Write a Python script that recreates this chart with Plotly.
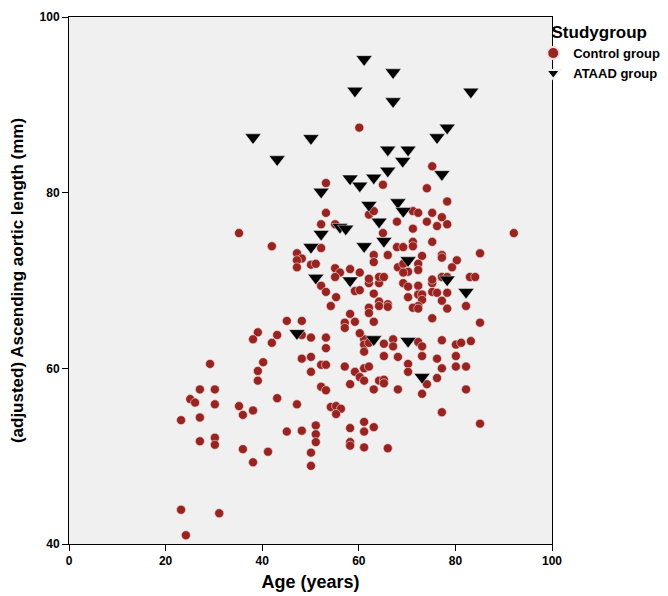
import plotly.graph_objects as go

# Control group (age, adjusted ascending aortic length)
control_age = [
    23.2, 23.2, 24.2, 31.1, 25.1, 26.1, 27.1, 30.2, 29.2, 30.2, 27.1, 27.1, 30.2, 30.2,
    35.2, 36.0, 38.1, 36.0, 38.1, 41.2, 39.1, 38.1, 43.1, 42.0, 40.2, 39.1, 39.1, 43.1,
    45.1, 48.2, 47.2, 45.1, 48.2, 48.2, 48.2, 35.2, 42.0, 47.2, 48.2, 47.2, 47.2,
    50.1, 53.2, 53.2, 50.1, 50.1, 52.2, 53.2, 52.2, 53.2, 54.2, 55.3, 56.3, 55.3, 51.1,
    51.1, 51.1, 50.1, 50.1, 58.2, 58.2, 58.2, 61.1, 61.1, 63.1, 61.1, 66.0,
    57.1, 59.2, 60.2, 61.1, 58.2, 61.1, 62.1, 61.1, 61.1, 61.1, 62.1, 60.2, 64.2, 65.2,
    65.2, 63.1, 65.2, 65.2, 67.1, 67.1, 68.1, 68.1, 70.2, 70.2, 72.3, 73.1, 73.1, 74.1,
    73.1, 76.2, 77.2, 76.2, 77.2, 80.1, 81.2, 83.2, 80.1, 80.1, 82.2, 82.2, 77.2, 85.1,
    52.2, 53.2, 55.3, 54.2, 59.2, 60.2, 62.1, 64.2, 63.1, 64.2, 64.2, 66.0, 66.0, 62.1,
    62.1, 63.1, 58.2, 57.1, 57.1, 59.2, 69.2, 70.2, 72.3, 70.2, 72.3, 73.1, 73.1, 72.3,
    71.2, 72.3, 75.2, 75.2, 76.2, 77.2, 78.3, 78.3, 82.2, 75.2, 85.1,
    53.2, 65.0, 53.2, 52.2, 55.1, 62.1, 63.1, 67.9, 65.0, 52.2, 63.1, 63.1, 66.0, 67.9,
    69.2, 50.1, 51.1, 55.1, 56.1, 55.1, 58.2, 60.2, 62.1, 64.2, 65.2, 68.1,
    75.2, 74.1, 78.3, 71.2, 72.3, 75.2, 77.2, 74.1, 76.2, 78.3, 71.2, 92.1, 71.2, 71.2,
    75.2, 85.1, 77.2, 77.2, 80.3, 79.3, 73.1, 72.3, 72.3, 69.2, 70.2, 69.2, 75.2, 77.2,
    78.3, 83.0, 84.1, 60.1,
]
control_len = [
    54.1, 43.9, 41.0, 43.5, 56.5, 56.1, 57.6, 57.6, 60.5, 55.9, 54.4, 51.7, 52.1, 51.3,
    55.7, 54.7, 55.2, 50.8, 49.3, 50.5, 64.1, 63.3, 63.8, 62.9, 60.7, 59.7, 58.6, 56.6,
    52.8, 52.9, 55.9, 65.4, 65.4, 63.8, 61.1, 75.4, 73.9, 73.1, 72.5, 72.3, 71.5,
    63.5, 63.5, 62.3, 61.3, 59.6, 60.4, 60.4, 57.9, 57.5, 55.6, 55.7, 55.4, 54.8, 53.5,
    52.5, 51.6, 50.4, 48.9, 53.2, 51.6, 51.2, 53.9, 52.8, 53.3, 51.0, 50.9,
    60.2, 59.6, 59.0, 58.6, 58.2, 60.0, 60.2, 63.3, 62.7, 61.9, 62.9, 64.0, 58.6, 58.7,
    58.3, 57.6, 62.8, 61.4, 63.3, 62.5, 61.3, 57.6, 60.5, 59.6, 63.0, 62.5, 61.4, 58.2,
    57.1, 61.1, 60.0, 58.9, 63.2, 62.7, 62.9, 63.1, 61.4, 60.2, 60.2, 57.6, 55.0, 53.7,
    69.4, 68.7, 68.1, 67.1, 68.8, 68.9, 69.7, 69.7, 68.5, 67.6, 67.1, 67.3, 67.0, 66.9,
    66.3, 65.3, 66.2, 65.2, 64.6, 65.3, 69.7, 69.3, 69.4, 68.1, 68.4, 68.4, 67.8, 67.1,
    66.9, 66.8, 69.7, 68.7, 68.6, 67.7, 68.6, 66.8, 67.1, 65.7, 65.2,
    81.1, 80.9, 77.7, 76.4, 76.4, 77.5, 77.9, 76.7, 75.4, 73.7, 72.9, 72.1, 72.9, 73.8,
    73.8, 71.8, 71.9, 71.4, 70.9, 70.4, 71.3, 70.9, 70.2, 70.4, 70.4, 71.5,
    83.0, 80.5, 79.0, 77.9, 77.7, 77.7, 77.2, 76.7, 76.2, 76.4, 75.9, 75.4, 74.4, 73.9,
    74.4, 73.1, 72.9, 72.6, 72.3, 71.5, 72.8, 71.9, 71.2, 71.9, 71.0, 70.9, 70.1, 70.4,
    70.4, 70.4, 70.4, 87.4,
]

# ATAAD group
ataad_age = [
    38.1, 43.1, 50.1, 52.2, 52.2, 50.1, 51.1, 47.2, 56.1, 57.3, 58.2, 58.2, 59.2, 60.2,
    61.1, 61.1, 62.1, 63.1, 63.1, 70.2, 64.2, 65.2, 66.0, 66.0, 67.1, 67.1, 68.1, 69.1,
    69.2, 70.2, 70.2, 73.1, 76.2, 77.2, 78.3, 78.3, 82.2, 83.2,
]
ataad_len = [
    86.3, 83.8, 86.2, 80.1, 75.3, 73.8, 70.3, 64.0, 76.1, 75.9, 81.6, 70.0, 91.6, 80.8,
    95.2, 73.9, 78.6, 81.7, 63.3, 63.1, 76.7, 74.5, 82.5, 84.9, 90.4, 93.7, 78.9, 83.6,
    77.9, 84.9, 72.3, 59.0, 86.3, 82.1, 87.4, 70.1, 68.7, 91.5,
]

x_ticks = [0, 20, 40, 60, 80, 100]
y_ticks = [40, 60, 80, 100]

font_family = "Liberation Sans, Arial, sans-serif"

# The page has an 8px body margin, so the figure is sized/offset to compensate.
FIG_W, FIG_H = 660, 588
L, B = 61, 52
PLOT_W, PLOT_H = 483, 527

fig = go.Figure()
fig.add_trace(go.Scatter(
    x=control_age, y=control_len, mode="markers", name="<b>Control group</b>",
    marker=dict(symbol="circle", size=9, color="#972421",
                line=dict(width=0.6, color="#f4dede")),
))
fig.add_trace(go.Scatter(
    x=ataad_age, y=ataad_len, mode="markers", name="<b>ATAAD group</b>",
    marker=dict(symbol="triangle-down", size=14, color="#000000",
                line=dict(width=0.5, color="#f0f0f0")),
))

axis_common = dict(
    showgrid=False, zeroline=False, showline=True, linecolor="#000000", linewidth=1,
    mirror=True, ticks="outside", ticklen=6, tickcolor="#000000", tickwidth=1,
    tickfont=dict(family=font_family, size=12, color="#000000", weight="bold"),
    automargin=False,
)

fig.update_layout(
    width=FIG_W, height=FIG_H,
    margin=dict(l=L, r=0, t=0, b=B),
    paper_bgcolor="#ffffff", plot_bgcolor="#f0f0f0",
    font=dict(family=font_family, color="#000000"),
    xaxis=dict(range=[0, 100], tickvals=x_ticks, domain=[0, PLOT_W / (FIG_W - L)],
               title=dict(text="<b>Age (years)</b>", font=dict(size=18), standoff=7),
               **axis_common),
    yaxis=dict(range=[40, 100], tickvals=y_ticks, domain=[0, PLOT_H / (FIG_H - B)],
               title=dict(text="<b>(adjusted) Ascending aortic length (mm)</b>",
                          font=dict(size=17), standoff=14),
               **axis_common),
    legend=dict(
        title=dict(text="<b>Studygroup</b>", font=dict(size=17), side="top center"),
        x=0.775, y=0.985, xanchor="left", yanchor="top",
        font=dict(size=13), bgcolor="rgba(0,0,0,0)",
        itemsizing="constant", tracegroupgap=0, itemwidth=30,
    ),
    showlegend=True,
)

fig.write_html("out.html")
